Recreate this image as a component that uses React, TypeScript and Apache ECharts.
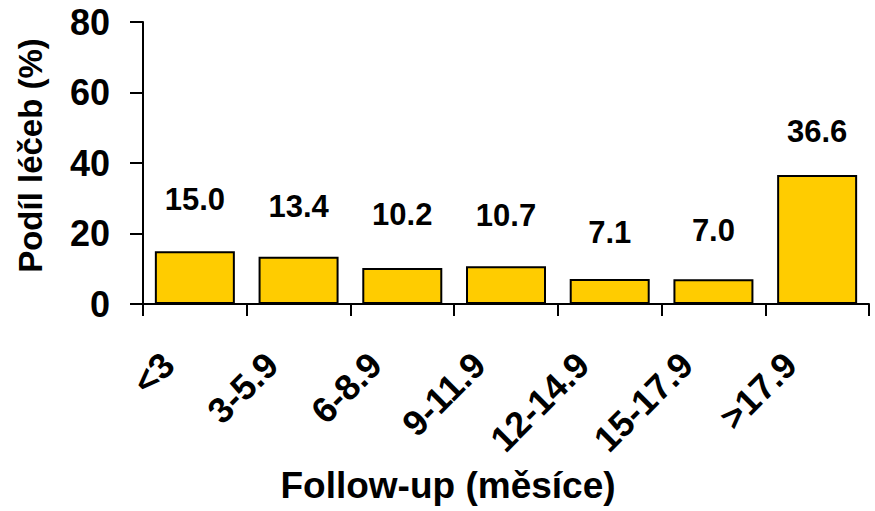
import React, { useEffect, useRef } from "react";
import * as echarts from "echarts";

const categories = ["<3", "3-5.9", "6-8.9", "9-11.9", "12-14.9", "15-17.9", ">17.9"];
const shares = [15.0, 13.4, 10.2, 10.7, 7.1, 7.0, 36.6];
const yTicks = [0, 20, 40, 60, 80];
const labelGaps = [36, 35, 38, 35, 31, 33, 28];

const FONT = "'Liberation Sans', Arial, sans-serif";

export default function App() {
  const ref = useRef<HTMLDivElement>(null);
  useEffect(() => {
    if (!ref.current) return;
    const chart = echarts.init(ref.current, undefined, { renderer: "svg" });
    chart.setOption({
      animation: false,
      backgroundColor: "#ffffff",
      textStyle: { fontFamily: FONT },
      title: {
        text: "Follow-up (měsíce)",
        left: 443,
        top: 462,
        textAlign: "center",
        textStyle: { fontFamily: FONT, fontWeight: "bold", fontSize: 37, color: "#000" },
      },
      grid: { left: 143, right: 6, top: 22, bottom: 207, containLabel: false },
      xAxis: {
        type: "category",
        data: categories,
        axisLine: { lineStyle: { color: "#000", width: 2 } },
        axisTick: { show: true, alignWithLabel: false, length: 12, lineStyle: { color: "#000", width: 2 } },
        axisLabel: {
          rotate: 45,
          interval: 0,
          margin: 28,
          padding: [0, 38, 0, 0],
          fontFamily: FONT,
          fontWeight: "bold",
          fontSize: 36,
          color: "#000",
        },
      },
      yAxis: {
        type: "value",
        min: yTicks[0],
        max: yTicks[yTicks.length - 1],
        interval: 20,
        name: "Podíl léčeb (%)",
        nameLocation: "middle",
        nameGap: 96,
        nameTextStyle: {
          fontFamily: FONT,
          fontWeight: "bold",
          fontSize: 33,
          color: "#000",
          padding: [0, 0, 0, 15],
        },
        splitLine: { show: false },
        axisLine: { show: true, lineStyle: { color: "#000", width: 2 } },
        axisTick: { show: true, length: 13, lineStyle: { color: "#000", width: 2 } },
        axisLabel: {
          margin: 33,
          fontFamily: FONT,
          fontWeight: "bold",
          fontSize: 36,
          color: "#000",
        },
      },
      series: [
        {
          type: "bar",
          barWidth: 80,
          data: shares.map((v, i) => ({
            value: v,
            label: { distance: labelGaps[i] },
          })),
          itemStyle: { color: "#FFCC00", borderColor: "#000", borderWidth: 2 },
          label: {
            show: true,
            position: "top",
            fontFamily: FONT,
            fontWeight: "bold",
            fontSize: 31,
            color: "#000",
            formatter: (p: any) => Number(p.value).toFixed(1),
          },
        },
      ],
    });
    return () => chart.dispose();
  }, []);
  return <div ref={ref} style={{ width: 875, height: 511, position: "absolute", left: 0, top: 0 }} />;
}
